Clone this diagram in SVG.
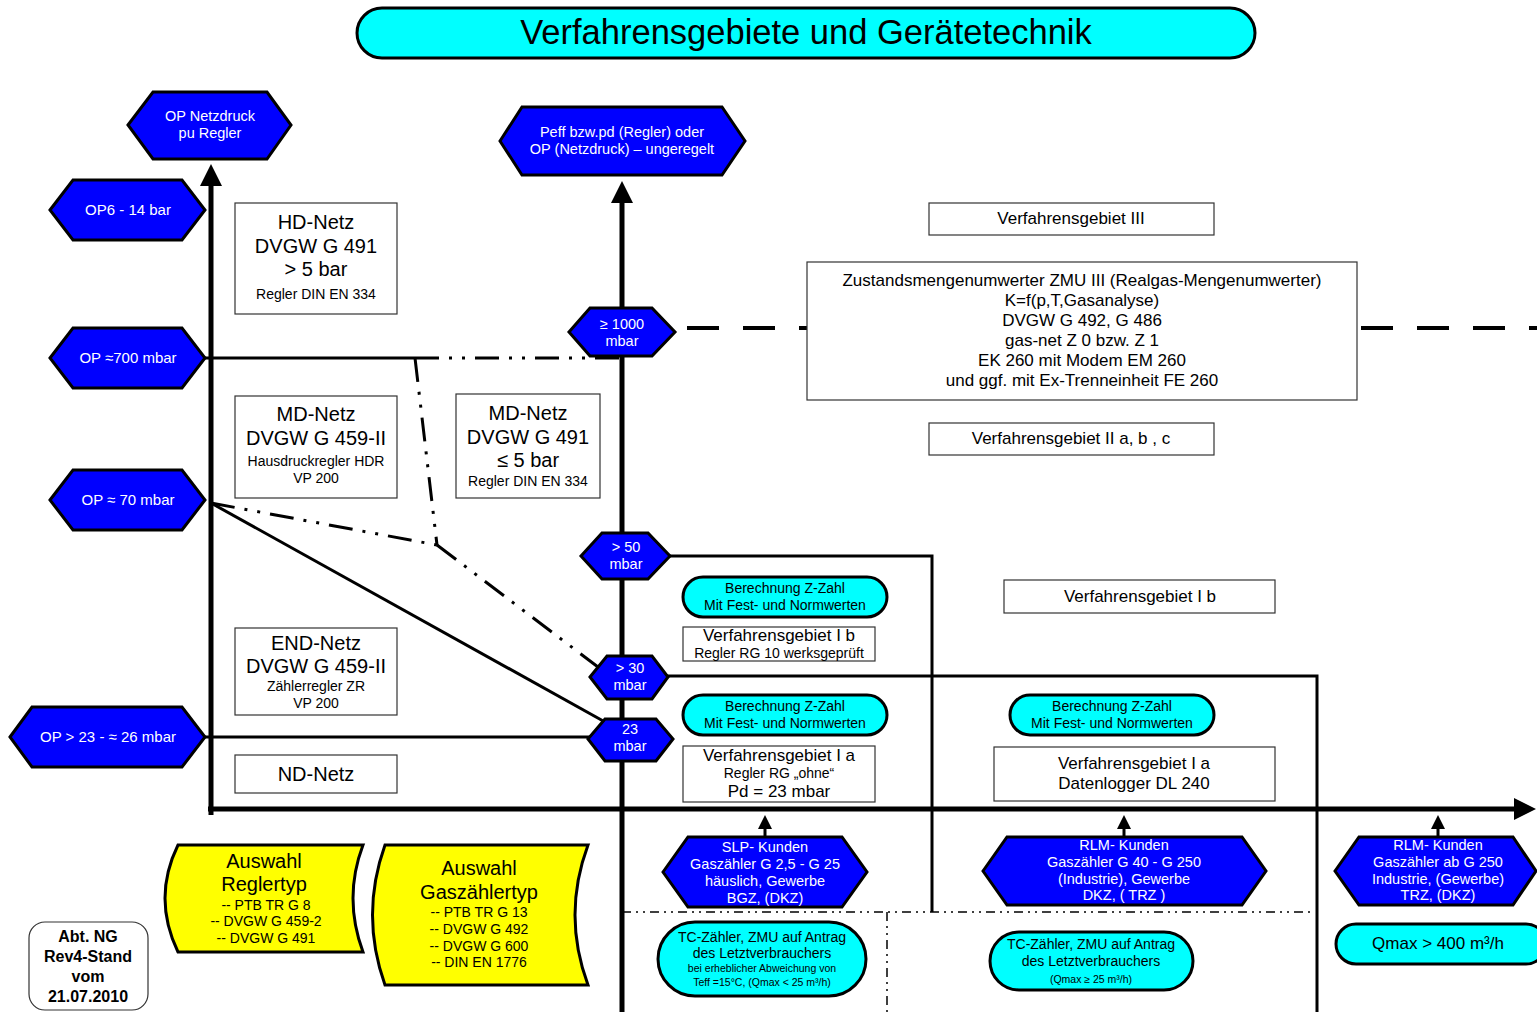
<svg xmlns="http://www.w3.org/2000/svg" width="1537" height="1012" viewBox="0 0 1537 1012">
<style>
text{font-family:"Liberation Sans",Arial,sans-serif;text-anchor:middle;fill:#000}
.hex{fill:#0000FF;stroke:#000;stroke-width:3;stroke-linejoin:miter}
.hex-t{fill:#fff;font-size:14.5px}
.box{fill:#fff;stroke:#333;stroke-width:1.2}
.cy{fill:#00FFFF;stroke:#000;stroke-width:3}
.yl{fill:#FFFF00;stroke:#000;stroke-width:3}
.ax{stroke:#000;stroke-width:5;fill:none}
.ln{stroke:#000;stroke-width:3;fill:none}
.ddd{stroke:#000;stroke-width:3;fill:none;stroke-dasharray:24 10 3 10 3 10}
.dsh{stroke:#000;stroke-width:4;fill:none;stroke-dasharray:32 24}
.thin{stroke:#000;stroke-width:1.5;fill:none;stroke-dasharray:9 5 2 5 2 5}
.f20{font-size:20px}.f16{font-size:17px}.f14{font-size:14px}.f11{font-size:10.5px}
</style>
<defs>
<marker id="ah" viewBox="0 0 10 10" refX="0" refY="5" markerWidth="26" markerHeight="22" markerUnits="userSpaceOnUse" orient="auto"><path d="M0,0 L10,5 L0,10 z" fill="#000"/></marker>
<marker id="ahs" viewBox="0 0 10 10" refX="0" refY="5" markerWidth="14" markerHeight="16" markerUnits="userSpaceOnUse" orient="auto"><path d="M0,0 L10,5 L0,10 z" fill="#000"/></marker>
</defs>
<rect width="1537" height="1012" fill="#fff"/>

<g id="connectors">
<line class="ax" x1="211" y1="815" x2="211" y2="186" marker-end="url(#ah)"/>
<line class="ax" x1="208" y1="809" x2="1514" y2="809" marker-end="url(#ah)"/>
<line class="ax" x1="622" y1="1012" x2="622" y2="203" marker-end="url(#ah)"/>
<line class="ln" x1="205" y1="358" x2="415" y2="358"/>
<line class="ddd" x1="415" y1="358" x2="620" y2="358"/>
<line class="ddd" x1="415" y1="358" x2="437" y2="545"/>
<line class="ddd" x1="211" y1="503" x2="437" y2="545"/>
<line class="ddd" x1="437" y1="545" x2="598" y2="667"/>
<line class="ln" x1="211" y1="503" x2="605" y2="722"/>
<line class="ln" x1="205" y1="737" x2="592" y2="737"/>
<polyline class="ln" points="668,556 932,556 932,912"/>
<polyline class="ln" points="666,676 1317,676 1317,1012"/>
<line class="dsh" x1="687" y1="328" x2="807" y2="328"/>
<line class="dsh" x1="1361" y1="328" x2="1537" y2="328"/>
<line class="thin" x1="622" y1="912" x2="1315" y2="912"/>
<line class="thin" x1="887" y1="912" x2="887" y2="1012"/>
<line class="ln" x1="765" y1="838" x2="765" y2="829" marker-end="url(#ahs)"/>
<line class="ln" x1="1124" y1="838" x2="1124" y2="829" marker-end="url(#ahs)"/>
<line class="ln" x1="1438" y1="838" x2="1438" y2="829" marker-end="url(#ahs)"/>
</g>

<g id="title">
<rect x="357" y="8" width="898" height="50" rx="25" class="cy"/>
<text x="806" y="44" style="font-size:34.5px">Verfahrensgebiete und Gerätetechnik</text>
</g>

<g id="hex-op-netzdruck">
<polygon class="hex" points="128,125 153,92 267,92 291,125 267,159 153,159"/>
<text class="hex-t" x="210" y="121">OP Netzdruck</text>
<text class="hex-t" x="210" y="138">pu Regler</text>
</g>
<g id="hex-op6">
<polygon class="hex" points="50,210 73,180 182,180 205,210 182,240 73,240"/>
<text class="hex-t" x="128" y="215" style="font-size:15px">OP6 - 14 bar</text>
</g>
<g id="hex-op700">
<polygon class="hex" points="50,358 73,328 182,328 205,358 182,388 73,388"/>
<text class="hex-t" x="128" y="363" style="font-size:15px">OP ≈700 mbar</text>
</g>
<g id="hex-op70">
<polygon class="hex" points="50,500 73,470 182,470 205,500 182,530 73,530"/>
<text class="hex-t" x="128" y="505" style="font-size:15px">OP ≈ 70  mbar</text>
</g>
<g id="hex-op23">
<polygon class="hex" points="10,737 32,707 182,707 205,737 182,767 32,767"/>
<text class="hex-t" x="108" y="742" style="font-size:15px">OP  &gt; 23 - ≈ 26 mbar</text>
</g>
<g id="hex-peff">
<polygon class="hex" points="500,141 522,107 722,107 745,141 722,175 522,175"/>
<text class="hex-t" x="622" y="137">Peff bzw.pd (Regler) oder</text>
<text class="hex-t" x="622" y="154">OP (Netzdruck) – ungeregelt</text>
</g>
<g id="hex-1000">
<polygon class="hex" points="569,332 590,308 652,308 675,332 652,356 590,356"/>
<text class="hex-t" x="622" y="329">≥ 1000</text>
<text class="hex-t" x="622" y="346">mbar</text>
</g>
<g id="hex-50">
<polygon class="hex" points="581,556 602,533 648,533 670,556 648,579 602,579"/>
<text class="hex-t" x="626" y="552">&gt; 50</text>
<text class="hex-t" x="626" y="569">mbar</text>
</g>
<g id="hex-30">
<polygon class="hex" points="590,677 607,656 652,656 668,677 652,699 607,699"/>
<text class="hex-t" x="630" y="673">&gt; 30</text>
<text class="hex-t" x="630" y="690">mbar</text>
</g>
<g id="hex-23">
<polygon class="hex" points="588,739 605,719 656,719 673,739 656,761 605,761"/>
<text class="hex-t" x="630" y="734">23</text>
<text class="hex-t" x="630" y="751">mbar</text>
</g>
<g id="hex-slp">
<polygon class="hex" points="663,872 688,837 842,837 867,872 842,907 688,907"/>
<text class="hex-t" x="765" y="852">SLP- Kunden</text>
<text class="hex-t" x="765" y="869">Gaszähler G 2,5 - G 25</text>
<text class="hex-t" x="765" y="886">häuslich, Gewerbe</text>
<text class="hex-t" x="765" y="903">BGZ, (DKZ)</text>
</g>
<g id="hex-rlm1">
<polygon class="hex" points="983,871 1007,837 1242,837 1266,871 1242,905 1007,905"/>
<text class="hex-t" x="1124" y="850">RLM- Kunden</text>
<text class="hex-t" x="1124" y="867">Gaszähler G 40 - G 250</text>
<text class="hex-t" x="1124" y="884">(Industrie), Gewerbe</text>
<text class="hex-t" x="1124" y="900">DKZ, ( TRZ )</text>
</g>
<g id="hex-rlm2">
<polygon class="hex" points="1335,871 1359,837 1513,837 1536,871 1513,905 1359,905"/>
<text class="hex-t" x="1438" y="850">RLM- Kunden</text>
<text class="hex-t" x="1438" y="867">Gaszähler ab G 250</text>
<text class="hex-t" x="1438" y="884">Industrie, (Gewerbe)</text>
<text class="hex-t" x="1438" y="900">TRZ, (DKZ)</text>
</g>

<g id="box-hd">
<rect class="box" x="235" y="203" width="162" height="111"/>
<text class="f20" x="316" y="229">HD-Netz</text>
<text class="f20" x="316" y="253">DVGW G 491</text>
<text class="f20" x="316" y="276">&gt; 5 bar</text>
<text class="f14" x="316" y="299">Regler DIN EN 334</text>
</g>
<g id="box-md1">
<rect class="box" x="235" y="396" width="162" height="102"/>
<text class="f20" x="316" y="421">MD-Netz</text>
<text class="f20" x="316" y="445">DVGW G 459-II</text>
<text class="f14" x="316" y="466">Hausdruckregler HDR</text>
<text class="f14" x="316" y="483">VP 200</text>
</g>
<g id="box-md2">
<rect class="box" x="456" y="394" width="144" height="104"/>
<text class="f20" x="528" y="420">MD-Netz</text>
<text class="f20" x="528" y="444">DVGW G 491</text>
<text class="f20" x="528" y="467">≤ 5 bar</text>
<text class="f14" x="528" y="486">Regler DIN EN 334</text>
</g>
<g id="box-end">
<rect class="box" x="235" y="628" width="162" height="87"/>
<text class="f20" x="316" y="650">END-Netz</text>
<text class="f20" x="316" y="673">DVGW G 459-II</text>
<text class="f14" x="316" y="691">Zählerregler ZR</text>
<text class="f14" x="316" y="708">VP 200</text>
</g>
<g id="box-nd">
<rect class="box" x="235" y="755" width="162" height="38"/>
<text class="f20" x="316" y="781">ND-Netz</text>
</g>
<g id="box-vg3">
<rect class="box" x="929" y="203" width="285" height="32"/>
<text class="f16" x="1071" y="224">Verfahrensgebiet III</text>
</g>
<g id="box-zmu">
<rect class="box" x="807" y="262" width="550" height="138"/>
<text class="f16" x="1082" y="286">Zustandsmengenumwerter ZMU III (Realgas-Mengenumwerter)</text>
<text class="f16" x="1082" y="306">K=f(p,T,Gasanalyse)</text>
<text class="f16" x="1082" y="326">DVGW G 492, G 486</text>
<text class="f16" x="1082" y="346">gas-net Z 0 bzw. Z 1</text>
<text class="f16" x="1082" y="366">EK 260 mit Modem EM 260</text>
<text class="f16" x="1082" y="386">und ggf. mit Ex-Trenneinheit FE 260</text>
</g>
<g id="box-vg2">
<rect class="box" x="929" y="423" width="285" height="32"/>
<text class="f16" x="1071" y="444">Verfahrensgebiet II a, b , c</text>
</g>
<g id="box-vg1b-right">
<rect class="box" x="1004" y="580" width="271" height="33"/>
<text class="f16" x="1140" y="602">Verfahrensgebiet I b</text>
</g>
<g id="cy-z1">
<rect class="cy" x="683" y="577" width="204" height="40" rx="20"/>
<text class="f14" x="785" y="593">Berechnung Z-Zahl</text>
<text class="f14" x="785" y="610">Mit Fest- und Normwerten</text>
</g>
<g id="box-vg1b">
<rect class="box" x="683" y="627" width="192" height="34"/>
<text class="f16" x="779" y="641">Verfahrensgebiet I b</text>
<text class="f14" x="779" y="658">Regler RG 10 werksgeprüft</text>
</g>
<g id="cy-z2">
<rect class="cy" x="683" y="695" width="204" height="40" rx="20"/>
<text class="f14" x="785" y="711">Berechnung Z-Zahl</text>
<text class="f14" x="785" y="728">Mit Fest- und Normwerten</text>
</g>
<g id="box-vg1a">
<rect class="box" x="683" y="746" width="192" height="56"/>
<text class="f16" x="779" y="761">Verfahrensgebiet I a</text>
<text class="f14" x="779" y="778">Regler RG „ohne“</text>
<text class="f16" x="779" y="797">Pd = 23 mbar</text>
</g>
<g id="cy-z3">
<rect class="cy" x="1010" y="695" width="204" height="40" rx="20"/>
<text class="f14" x="1112" y="711">Berechnung Z-Zahl</text>
<text class="f14" x="1112" y="728">Mit Fest- und Normwerten</text>
</g>
<g id="box-vg1a-dl">
<rect class="box" x="994" y="747" width="281" height="54"/>
<text class="f16" x="1134" y="769">Verfahrensgebiet I a</text>
<text class="f16" x="1134" y="789">Datenlogger DL 240</text>
</g>
<g id="cy-tc1">
<rect class="cy" x="658" y="922" width="208" height="74" rx="37"/>
<text class="f14" x="762" y="942">TC-Zähler, ZMU auf Antrag</text>
<text class="f14" x="762" y="958">des Letztverbrauchers</text>
<text class="f11" x="762" y="972">bei erheblicher Abweichung von</text>
<text class="f11" x="762" y="986">Teff =15°C, (Qmax &lt; 25 m³/h)</text>
</g>
<g id="cy-tc2">
<rect class="cy" x="990" y="932" width="203" height="58" rx="29"/>
<text class="f14" x="1091" y="949">TC-Zähler, ZMU auf Antrag</text>
<text class="f14" x="1091" y="966">des Letztverbrauchers</text>
<text class="f11" x="1091" y="983">(Qmax ≥ 25 m³/h)</text>
</g>
<g id="cy-qmax">
<rect class="cy" x="1336" y="924" width="210" height="40" rx="20"/>
<text class="f16" x="1438" y="949">Qmax &gt; 400 m³/h</text>
</g>
<g id="yl-regler">
<path class="yl" d="M178,845 L363,845 Q343,898 363,952 L178,952 Q152,898 178,845 Z"/>
<text class="f20" x="264" y="868">Auswahl</text>
<text class="f20" x="264" y="891">Reglertyp</text>
<text class="f14" x="266" y="910">-- PTB TR G 8</text>
<text class="f14" x="266" y="926">-- DVGW G 459-2</text>
<text class="f14" x="266" y="943">-- DVGW G 491</text>
</g>
<g id="yl-zaehler">
<path class="yl" d="M385,845 L588,845 Q562,915 588,985 L385,985 Q360,915 385,845 Z"/>
<text class="f20" x="479" y="875">Auswahl</text>
<text class="f20" x="479" y="899">Gaszählertyp</text>
<text class="f14" x="479" y="917">-- PTB TR G 13</text>
<text class="f14" x="479" y="934">-- DVGW G 492</text>
<text class="f14" x="479" y="951">-- DVGW G 600</text>
<text class="f14" x="479" y="967">-- DIN EN 1776</text>
</g>
<g id="abt">
<rect x="29" y="922" width="119" height="88" rx="16" fill="#fff" stroke="#333" stroke-width="1.2"/>
<text x="88" y="942" font-weight="bold" style="font-size:16px">Abt. NG</text>
<text x="88" y="962" font-weight="bold" style="font-size:16px">Rev4-Stand</text>
<text x="88" y="982" font-weight="bold" style="font-size:16px">vom</text>
<text x="88" y="1002" font-weight="bold" style="font-size:16px">21.07.2010</text>
</g>
</svg>
